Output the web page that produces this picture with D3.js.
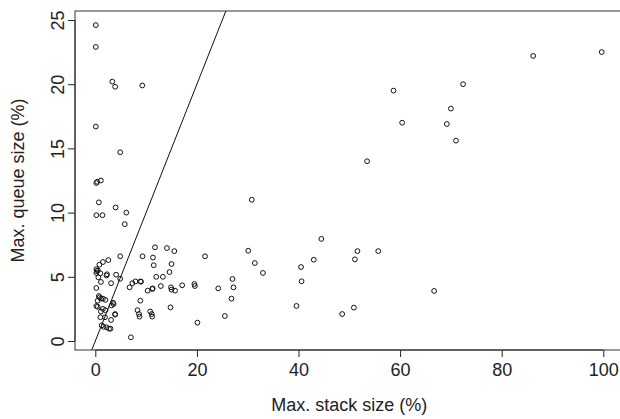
<!DOCTYPE html>
<html>
<head>
<meta charset="utf-8">
<script src="https://cdn.jsdelivr.net/npm/d3@7"></script>
<style>
  html, body { margin: 0; padding: 0; background: #fff; }
  svg { display: block; }
  text { font-family: "Liberation Sans", Arial, Helvetica, sans-serif; fill: #222; }
</style>
</head>
<body>
<svg id="chart" width="620" height="419"></svg>
<script>
// Max. stack size (%)
const stackSize = [
  0.1, 0.1, 3.35, 3.9, 9.25, 0.1, 4.9, 0.2, 0.35, 1.1, 0.7, 0.2, 1.4, 4.0, 6.1, 5.8,
  99.7, 86.2, 72.4, 58.7, 70.0, 60.4, 69.2, 71.0, 53.5, 66.7, 30.8, 44.5, 30.1, 31.4, 33.0,
  27.0, 24.2, 27.2, 26.8, 25.5, 40.5, 43.0, 40.6, 39.6, 51.6, 55.7, 51.1, 50.9, 48.6,
  11.75, 14.1, 15.55, 9.3, 11.35, 21.6, 11.5, 15.0, 14.6, 12.0, 13.3, 10.3, 11.2, 11.3,
  12.9, 14.9, 15.0, 15.7, 17.1, 19.5, 19.6, 14.8, 10.8, 11.1, 11.2, 20.1,
  4.9, 2.56, 1.5, 0.8, 0.2, 0.3, 0.2, 0.5, 1.0, 2.2, 2.3, 4.1, 0.6, 4.9, 1.1, 3.1,
  6.75, 7.3, 7.9, 8.86, 9.0, 0.2, 0.7, 0.85, 1.1, 1.5, 2.0, 0.45, 0.2, 0.45, 8.86,
  3.5, 3.2, 3.6, 1.5, 2.0, 1.1, 3.9, 3.9, 8.3, 8.6, 8.7, 1.0, 1.9, 3.1, 1.25, 1.6,
  2.2, 2.7, 3.0, 7.0
];
// Max. queue size (%)
const queueSize = [
  24.6, 22.9, 20.2, 19.8, 19.9, 16.7, 14.7, 12.3, 12.4, 12.5, 10.8, 9.8, 9.8, 10.4, 10.0, 9.1,
  22.5, 22.2, 20.0, 19.5, 18.1, 17.0, 16.9, 15.6, 14.0, 3.9, 11.0, 7.95, 7.03, 6.07, 5.3,
  4.83, 4.1, 4.18, 3.3, 1.95, 5.76, 6.33, 4.65, 2.73, 7.0, 7.0, 6.36, 2.6, 2.1,
  7.3, 7.24, 7.0, 6.6, 6.5, 6.6, 5.9, 6.0, 5.37, 5.0, 5.0, 3.92, 4.05, 4.1,
  4.28, 4.18, 4.0, 3.92, 4.34, 4.44, 4.28, 2.62, 2.3, 2.1, 1.9, 1.43,
  6.6, 6.3, 6.15, 5.94, 5.6, 5.45, 5.3, 5.5, 5.27, 5.1, 5.2, 5.16, 4.96, 4.85, 4.6, 4.5,
  4.18, 4.5, 4.64, 4.64, 4.62, 4.13, 3.5, 3.4, 3.3, 3.3, 3.2, 3.14, 2.73, 2.67, 3.14,
  2.98, 2.77, 2.88, 2.5, 2.4, 2.3, 2.1, 2.05, 2.4, 2.1, 1.9, 1.85, 1.85, 1.64, 1.22, 1.11,
  1.07, 0.96, 0.96, 0.29
];
const xTicks = [0, 20, 40, 60, 80, 100];
const yTicks = [0, 5, 10, 15, 20, 25];
const xTitle = "Max. stack size (%)";
const yTitle = "Max. queue size (%)";

const points = stackSize.map((s, i) => ({ x: s, y: queueSize[i] }));

const svg = d3.select("#chart");
const mLeft = 75, mRight = 623.6, mTop = 11, mBottom = 350;

const x = d3.scaleLinear().domain([-4, 104]).range([mLeft, mRight]);
const y = d3.scaleLinear().domain([-0.7, 25.7]).range([mBottom, mTop]);

svg.append("defs").append("clipPath").attr("id", "plotclip")
  .append("rect").attr("x", mLeft).attr("y", mTop)
  .attr("width", mRight - mLeft).attr("height", mBottom - mTop);

// Axes
const xAxis = d3.axisBottom(x).tickValues(xTicks).tickSize(7).tickPadding(6).tickFormat(d3.format("d"));
const gx = svg.append("g").attr("transform", `translate(0,${mBottom})`).call(xAxis);
gx.select(".domain").attr("d", `M${x(0)},0H${x(100)}`).attr("stroke", "#222");
gx.selectAll(".tick line").attr("stroke", "#222");
gx.selectAll(".tick text").attr("font-size", 18).attr("fill", "#222")
  .attr("font-family", "Liberation Sans, Arial, sans-serif");

const yAxis = d3.axisLeft(y).tickValues(yTicks).tickSize(7).tickFormat(d3.format("d"));
const gy = svg.append("g").attr("transform", `translate(${mLeft},0)`).call(yAxis);
gy.select(".domain").attr("d", `M0,${y(0)}V${y(25)}`).attr("stroke", "#222");
gy.selectAll(".tick line").attr("stroke", "#222");
gy.selectAll(".tick text")
  .attr("font-size", 18).attr("fill", "#222")
  .attr("font-family", "Liberation Sans, Arial, sans-serif")
  .attr("x", null).attr("dy", null)
  .attr("text-anchor", "middle")
  .attr("transform", "translate(-11.5,0) rotate(-90)");

// Box
svg.append("rect").attr("x", mLeft).attr("y", mTop)
  .attr("width", mRight - mLeft).attr("height", mBottom - mTop)
  .attr("fill", "none").attr("stroke", "#333").attr("stroke-width", 1);

// Identity line
const plot = svg.append("g").attr("clip-path", "url(#plotclip)");
const lineData = [{ x: -4, y: -4 }, { x: 30, y: 30 }];
plot.append("path")
  .datum(lineData)
  .attr("d", d3.line().x(d => x(d.x)).y(d => y(d.y)))
  .attr("stroke", "#111").attr("stroke-width", 1).attr("fill", "none");

// Points
plot.selectAll("circle.pt").data(points).enter().append("circle")
  .attr("class", "pt")
  .attr("cx", d => x(d.x)).attr("cy", d => y(d.y)).attr("r", 2.4)
  .attr("fill", "none").attr("stroke", "#111").attr("stroke-width", 1);

// Titles
svg.append("text").attr("x", (mLeft + mRight) / 2).attr("y", 411)
  .attr("text-anchor", "middle").attr("font-size", 18).text(xTitle);
svg.append("text")
  .attr("transform", `translate(24,${(mTop + mBottom) / 2}) rotate(-90)`)
  .attr("text-anchor", "middle").attr("font-size", 18).text(yTitle);
</script>
</body>
</html>
